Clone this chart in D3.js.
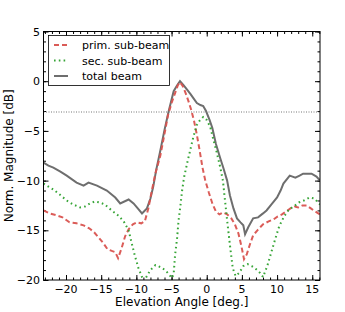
<!DOCTYPE html>
<html>
<head>
<meta charset="utf-8">
<script src="https://cdn.jsdelivr.net/npm/d3@7"></script>
<style>
  body { margin: 0; background: #fff; }
  svg { display: block; font-family: "DejaVu Sans", sans-serif; }
</style>
</head>
<body>
<svg id="chart" width="345" height="312"></svg>
<script>
/* data: [angle deg, magnitude dB] */
var primBeam = [
  [-23.2,-13.0],[-22.3,-13.3],[-21.3,-13.5],[-20.5,-13.7],[-19.5,-14.2],[-18.5,-14.3],
  [-17.5,-14.5],[-16.7,-14.8],[-16.0,-15.2],[-15.4,-15.7],[-14.8,-16.2],[-14.1,-16.9],
  [-13.4,-17.1],[-13.0,-17.2],[-12.6,-17.8],[-12.1,-16.8],[-11.6,-15.6],[-11.1,-14.9],
  [-10.5,-14.4],[-9.9,-14.2],[-9.3,-14.3],[-8.8,-14.1],[-8.3,-12.8],[-7.8,-11.0],
  [-7.3,-9.3],[-6.6,-7.5],[-6.0,-5.3],[-5.5,-3.4],[-5.0,-2.2],[-4.5,-1.2],[-4.1,-0.4],
  [-3.8,-0.1],[-3.4,-0.5],[-3.0,-1.2],[-2.6,-2.0],[-2.2,-2.9],[-1.8,-4.0],[-1.4,-5.4],
  [-1.0,-7.0],[-0.6,-8.7],[-0.2,-10.0],[0.3,-11.2],[0.8,-12.3],[1.3,-13.1],[1.8,-13.4],
  [2.3,-13.2],[2.9,-13.4],[3.5,-13.8],[4.0,-14.4],[4.5,-15.3],[4.9,-16.5],[5.3,-17.9],
  [5.7,-17.4],[6.1,-16.5],[6.6,-15.5],[7.2,-15.0],[8.0,-14.4],[8.8,-14.1],[9.5,-13.9],
  [10.1,-13.6],[10.7,-13.4],[11.3,-13.1],[11.9,-12.8],[12.5,-12.6],[13.0,-12.7],
  [13.6,-12.5],[14.2,-12.5],[14.8,-12.8],[15.4,-13.1],[16.1,-13.4]
];

var secBeam = [
  [-23.2,-10.3],[-22.5,-10.6],[-21.8,-10.9],[-20.9,-11.4],[-19.9,-12.0],[-19.0,-12.4],
  [-18.0,-12.7],[-17.3,-12.6],[-16.6,-12.3],[-15.9,-12.1],[-15.2,-12.2],[-14.5,-12.4],
  [-13.5,-13.0],[-12.6,-13.5],[-11.8,-14.1],[-11.1,-15.0],[-10.7,-16.2],[-10.2,-17.6],
  [-9.7,-18.8],[-9.2,-19.7],[-8.9,-20.1],[-8.5,-19.6],[-8.0,-19.0],[-7.3,-18.5],
  [-6.6,-18.7],[-5.9,-19.0],[-5.4,-19.4],[-4.95,-19.8],[-4.7,-19.4],[-4.5,-17.5],
  [-4.2,-15.7],[-4.0,-14.0],[-3.75,-12.6],[-3.5,-11.0],[-3.2,-9.6],[-2.8,-8.3],
  [-2.4,-7.1],[-1.9,-5.6],[-1.4,-4.4],[-0.95,-3.9],[-0.5,-3.6],[0.0,-3.9],[0.5,-4.6],
  [0.95,-5.9],[1.4,-7.1],[1.9,-8.6],[2.3,-10.0],[2.6,-12.0],[2.9,-14.0],[3.3,-16.5],
  [3.7,-18.8],[4.1,-19.6],[4.6,-19.3],[5.2,-18.6],[5.8,-18.4],[6.4,-18.6],[7.0,-18.9],
  [7.6,-19.3],[8.0,-19.7],[8.6,-18.6],[9.1,-17.4],[9.6,-16.2],[10.3,-14.6],[11.0,-13.6],
  [11.7,-12.9],[12.4,-12.6],[13.1,-12.2],[13.8,-12.0],[14.6,-11.7],[15.3,-11.8],[16.1,-12.4]
];

var totalBeam = [
  [-23.2,-8.2],[-22.5,-8.5],[-21.8,-8.7],[-20.8,-9.1],[-19.9,-9.5],[-18.5,-10.2],
  [-17.5,-10.5],[-16.8,-10.2],[-15.6,-10.5],[-14.2,-11.0],[-13.0,-11.7],[-12.3,-12.3],
  [-11.1,-11.9],[-10.4,-12.3],[-9.8,-12.8],[-9.2,-13.3],[-8.5,-12.8],[-8.0,-11.8],
  [-7.6,-10.6],[-7.2,-9.0],[-6.6,-7.0],[-6.0,-4.9],[-5.4,-3.0],[-4.7,-1.0],[-4.2,-0.4],
  [-3.8,0.0],[-3.3,-0.4],[-2.85,-0.8],[-2.3,-1.3],[-1.9,-1.7],[-1.4,-2.2],[-0.9,-2.4],
  [-0.5,-2.5],[-0.1,-3.0],[0.4,-3.9],[0.8,-4.7],[1.3,-6.3],[1.9,-7.7],[2.4,-8.8],
  [2.9,-10.0],[3.3,-11.5],[3.8,-12.8],[4.3,-13.8],[4.8,-14.2],[5.2,-14.5],[5.45,-15.4],
  [5.9,-14.7],[6.6,-13.8],[7.3,-13.7],[8.0,-13.3],[8.5,-13.0],[9.2,-12.4],[10.0,-11.7],
  [10.5,-11.0],[10.9,-10.3],[11.8,-9.5],[12.6,-9.7],[13.2,-9.5],[13.7,-9.3],[14.9,-9.3],
  [15.6,-9.6],[16.1,-10.0]
];

var xTicks = [-20, -15, -10, -5, 0, 5, 10, 15];
var yTicks = [5, 0, -5, -10, -15, -20];
var halfPower = -3;

var legendNames = ["prim. sub-beam", "sec. sub-beam", "total beam"];

/*Setup*/
var svg = d3.select("#chart");
var margin = {left: 43.5, right: 25, top: 31.5, bottom: 32};
var width = 345 - margin.left - margin.right,
    height = 312 - margin.top - margin.bottom;

var x = d3.scaleLinear().domain([-23.2, 16.1]).range([0, width]);
var y = d3.scaleLinear().domain([-20, 5]).range([height, 0]);

var g = svg.append("g").attr("transform", "translate(" + margin.left + "," + margin.top + ")");

g.append("clipPath").attr("id", "clip")
  .append("rect").attr("width", width).attr("height", height);

var minorX = d3.range(-23, 17, 1);
var minorY = d3.range(-20, 6, 1);

/* ticks, inward on all four sides */
function drawTicks(axisGen, transform) {
  g.append("g").attr("transform", transform).call(axisGen)
    .call(function(s){ s.select(".domain").remove(); })
    .selectAll("line").attr("stroke", "#000");
}
drawTicks(d3.axisBottom(x).tickValues(minorX).tickSize(-2.5).tickFormat(""), "translate(0," + height + ")");
drawTicks(d3.axisTop(x).tickValues(minorX).tickSize(-2.5).tickFormat(""), "translate(0,0)");
drawTicks(d3.axisLeft(y).tickValues(minorY).tickSize(-2.5).tickFormat(""), "translate(0,0)");
drawTicks(d3.axisRight(y).tickValues(minorY).tickSize(-2.5).tickFormat(""), "translate(" + width + ",0)");
drawTicks(d3.axisBottom(x).tickValues(xTicks).tickSize(-5).tickFormat(""), "translate(0," + height + ")");
drawTicks(d3.axisTop(x).tickValues(xTicks).tickSize(-5).tickFormat(""), "translate(0,0)");
drawTicks(d3.axisLeft(y).tickValues(yTicks).tickSize(-5).tickFormat(""), "translate(0,0)");
drawTicks(d3.axisRight(y).tickValues(yTicks).tickSize(-5).tickFormat(""), "translate(" + width + ",0)");

/* tick labels */
var fmt = function(d){ return d < 0 ? "\u2212" + Math.abs(d) : d; };
g.selectAll(".xlab").data(xTicks).enter().append("text")
  .attr("x", function(d){ return x(d); })
  .attr("y", height + 13)
  .attr("text-anchor", "middle")
  .attr("font-size", 11)
  .text(fmt);
g.selectAll(".ylab").data(yTicks).enter().append("text")
  .attr("x", -3.5)
  .attr("y", function(d){ return y(d) + 4; })
  .attr("text-anchor", "end")
  .attr("font-size", 11)
  .text(fmt);

/* -3 dB line */
g.append("line")
  .attr("x1", 0).attr("x2", width)
  .attr("y1", Math.round(y(halfPower)) + 0.5).attr("y2", Math.round(y(halfPower)) + 0.5)
  .attr("stroke", "#777").attr("stroke-width", 1)
  .attr("stroke-dasharray", "1,1.5");

var line = d3.line().x(function(d){ return x(d[0]); }).y(function(d){ return y(d[1]); });

var plot = g.append("g").attr("clip-path", "url(#clip)");

var styles = [
  {data: primBeam, color: "#d9534f", dash: "5,3", opacity: 0.95},
  {data: secBeam, color: "#2ca02c", dash: "1.6,3.2", opacity: 0.95},
  {data: totalBeam, color: "#6e6e6e", dash: null, opacity: 1}
];

plot.append("path").datum(totalBeam).attr("d", line)
  .attr("fill", "none").attr("stroke", styles[2].color).attr("stroke-width", 2);
plot.append("path").datum(primBeam).attr("d", line)
  .attr("fill", "none").attr("stroke", styles[0].color).attr("stroke-width", 2)
  .attr("stroke-dasharray", styles[0].dash).attr("opacity", styles[0].opacity);
plot.append("path").datum(secBeam).attr("d", line)
  .attr("fill", "none").attr("stroke", styles[1].color).attr("stroke-width", 2)
  .attr("stroke-dasharray", styles[1].dash).attr("opacity", styles[1].opacity);

/* frame */
g.append("rect").attr("width", width).attr("height", height)
  .attr("fill", "none").attr("stroke", "#000").attr("stroke-width", 1);

/* legend */
var leg = g.append("g").attr("transform", "translate(5,4)");
leg.append("rect").attr("width", 121).attr("height", 50)
  .attr("fill", "#fff").attr("stroke", "#000").attr("stroke-width", 0.8);
legendNames.forEach(function(name, i){
  var yy = 9.5 + i * 15.5;
  leg.append("line").attr("x1", 5.5).attr("x2", 19.5).attr("y1", yy).attr("y2", yy)
    .attr("stroke", styles[i].color).attr("stroke-width", 2)
    .attr("stroke-dasharray", styles[i].dash).attr("opacity", styles[i].opacity);
  leg.append("text").attr("x", 33.5).attr("y", yy + 4)
    .attr("font-size", 11).text(name);
});

/* axis titles */
svg.append("text")
  .attr("x", margin.left + width / 2).attr("y", 306)
  .attr("text-anchor", "middle").attr("font-size", 12)
  .text("Elevation Angle [deg.]");
svg.append("text")
  .attr("transform", "translate(13," + (margin.top + height / 2) + ") rotate(-90)")
  .attr("text-anchor", "middle").attr("font-size", 12)
  .text("Norm. Magnitude [dB]");
</script>
</body>
</html>
